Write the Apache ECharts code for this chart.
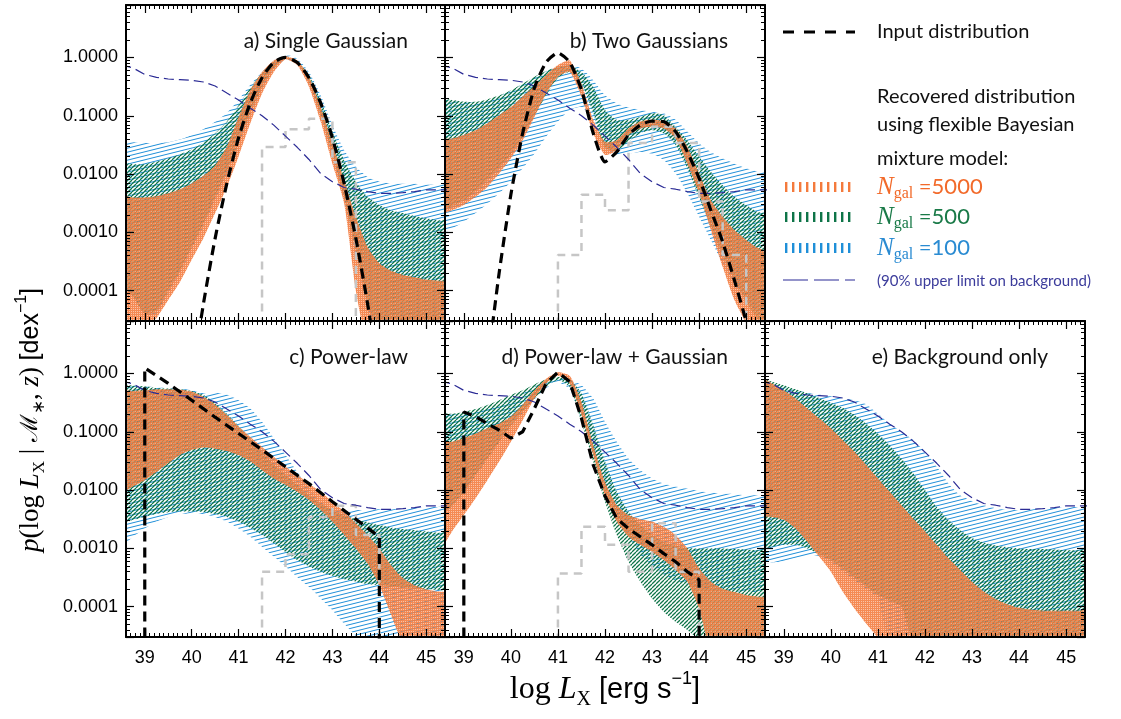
<!DOCTYPE html>
<html><head><meta charset="utf-8">
<script src="https://cdn.jsdelivr.net/npm/echarts@6/dist/echarts.min.js"></script>
<style>html,body{margin:0;padding:0;background:#fff;}#c{width:1121px;height:719px;}</style>
</head><body><div id="c"></div>
<script>
// ---------------- DATA ----------------
const X = [38.5,38.75,39,39.25,39.5,39.75,40,40.25,40.5,40.75,41,41.25,41.5,41.75,42,42.25,42.5,42.75,43,43.25,43.5,43.75,44,44.25,44.5,44.75,45,45.25,45.5];
const X_TICKS = [39,40,41,42,43,44,45];
// 90% upper limit on background (same in every panel)
const BG = [0.741,0.661,0.513,0.457,0.427,0.417,0.407,0.380,0.324,0.245,0.186,0.135,0.100,0.0692,0.0447,0.0288,0.0178,0.0102,0.00741,0.00589,0.00550,0.00501,0.00468,0.00468,0.00479,0.00501,0.00537,0.00537,0.00537];

// a) Single Gaussian
const A_IN = [1e-7,1e-7,1e-7,1e-7,1e-7,1e-7,3.0e-6,5.9e-5,7.9e-4,6.9e-3,0.042,0.166,0.45,0.82,1.0,0.82,0.45,0.166,0.042,6.9e-3,7.9e-4,5.9e-5,3.0e-6,1e-7,1e-7,1e-7,1e-7,1e-7,1e-7];
const A_HIST_EDGES = [41.5,42,42.5,43,43.5];
const A_HIST = [0.029,0.059,0.089,0.016];
const A_B_HI = [0.035,0.035,0.034,0.034,0.035,0.039,0.047,0.059,0.079,0.112,0.186,0.339,0.562,0.871,1.10,0.955,0.562,0.224,0.0692,0.0257,0.0135,0.0089,0.0074,0.0069,0.0068,0.0068,0.0066,0.0066,0.0066];
const A_B_LO = [1.35e-4,7.9e-5,4.0e-5,4.0e-5,8.9e-5,2.0e-4,5.0e-4,1.26e-3,3.55e-3,0.010,0.0316,0.100,0.282,0.631,0.933,0.759,0.355,0.100,0.020,3.55e-3,4.0e-4,5.0e-5,1e-5,1e-5,1e-5,1e-5,1e-5,1e-5,1e-5];
const A_G_HI = [0.0151,0.0148,0.0148,0.0162,0.0186,0.0219,0.0263,0.0347,0.0501,0.0794,0.151,0.309,0.537,0.851,1.0,0.871,0.501,0.186,0.0537,0.0174,0.00741,0.00407,0.00295,0.0024,0.00214,0.00191,0.00174,0.00162,0.00158];
const A_G_LO = [1.35e-4,7.9e-5,4.0e-5,4.5e-5,1.0e-4,2.2e-4,5.6e-4,1.41e-3,3.98e-3,0.0112,0.0355,0.112,0.316,0.661,0.955,0.794,0.380,0.105,0.0224,3.98e-3,5.0e-4,6.3e-5,1.6e-5,1e-5,1e-5,1e-5,1e-5,1e-5,1e-5];
const A_O_HI = [0.00407,0.00398,0.00398,0.00417,0.00468,0.0055,0.00692,0.00933,0.0141,0.0295,0.0955,0.275,0.562,0.891,1.047,0.891,0.468,0.141,0.0339,0.00794,0.00186,5.6e-4,2.95e-4,2.19e-4,1.86e-4,1.70e-4,1.55e-4,1.48e-4,1.41e-4];
const A_O_LO = [1e-5,1.26e-5,2.0e-5,3.39e-5,6.92e-5,1.41e-4,3.39e-4,7.94e-4,2.14e-3,6.03e-3,0.020,0.0741,0.24,0.562,0.933,0.741,0.316,0.0794,0.0151,3.16e-3,1.0e-4,1e-5,3e-6,3e-6,3e-6,3e-6,3e-6,3e-6,3e-6];

// b) Two Gaussians
const B_IN = [1e-7,1e-7,1e-7,1e-7,5.0e-6,2.0e-4,4.47e-3,0.0501,0.302,0.832,1.20,0.832,0.282,0.0501,0.0162,0.0240,0.0468,0.0692,0.0813,0.0794,0.0537,0.0240,8.5e-3,2.4e-3,6.9e-4,1.51e-4,2.95e-5,4.0e-6,4.0e-7];
const B_HIST_EDGES = [41,41.5,42,42.5,43,43.5,44,44.5,45];
const B_HIST = [4.1e-4,4.4e-3,2.4e-3,0.034,0.065,0.034,3.4e-3,4.1e-4];
const B_B_HI = [0.185,0.18,0.17,0.17,0.185,0.215,0.265,0.34,0.45,0.57,0.692,0.741,0.646,0.407,0.224,0.162,0.138,0.126,0.117,0.110,0.0851,0.0537,0.0339,0.0240,0.0186,0.0151,0.0126,0.0110,0.0102];
const B_B_LO = [9.55e-4,1.17e-3,1.51e-3,2.14e-3,3.09e-3,4.68e-3,7.41e-3,0.0126,0.0224,0.0437,0.0794,0.126,0.141,0.0851,0.0295,0.0214,0.0224,0.0240,0.0224,0.0174,0.0102,4.68e-3,1.86e-3,7.41e-4,2.95e-4,1.35e-4,6.92e-5,4.07e-5,2.95e-5];
const B_G_HI = [0.191,0.186,0.174,0.174,0.191,0.224,0.275,0.355,0.468,0.589,0.692,0.724,0.562,0.316,0.126,0.0851,0.0851,0.0955,0.110,0.102,0.0646,0.0380,0.0200,0.0110,6.46e-3,4.07e-3,2.95e-3,2.24e-3,2.0e-3];
const B_G_LO = [2.51e-3,2.82e-3,3.55e-3,5.01e-3,7.94e-3,0.0126,0.0224,0.0447,0.100,0.224,0.447,0.562,0.355,0.112,0.0282,0.0251,0.0355,0.0501,0.0562,0.0501,0.0316,0.0126,3.98e-3,1.26e-3,3.98e-4,1.58e-4,6.31e-5,3.16e-5,1.58e-5];
const B_O_HI = [0.038,0.0407,0.0468,0.0562,0.0741,0.102,0.141,0.214,0.324,0.501,0.741,0.891,0.355,0.0851,0.0355,0.038,0.0603,0.0794,0.0851,0.0794,0.0603,0.0295,0.0102,3.55e-3,1.86e-3,1.10e-3,7.41e-4,5.37e-4,4.37e-4];
const B_O_LO = [2.14e-3,2.40e-3,2.95e-3,4.07e-3,6.03e-3,0.0102,0.0186,0.038,0.0955,0.240,0.468,0.562,0.214,0.0501,0.0214,0.0257,0.0468,0.0603,0.0646,0.0603,0.0407,0.0151,4.68e-3,1.10e-3,2.57e-4,6.92e-5,2.75e-5,1e-5,5e-6];

// c) Power-law
const C_IN_X = [39,39,39.5,40,40.5,41,41.5,42,42.5,43,43.5,44,44];
const C_IN = [1e-7,1.25,0.676,0.347,0.178,0.0933,0.049,0.0251,0.0129,6.31e-3,3.16e-3,1.58e-3,1e-7];
const C_HIST_EDGES = [41.5,42,42.5,43,43.5,44];
const C_HIST = [3.98e-4,7.94e-4,3.47e-3,5.37e-3,1.70e-3];
const C_B_HI = [0.617,0.617,0.603,0.575,0.562,0.550,0.513,0.457,0.468,0.437,0.347,0.251,0.148,0.0776,0.0398,0.0204,0.0107,6.31e-3,4.90e-3,4.57e-3,4.57e-3,4.57e-3,4.68e-3,4.68e-3,4.90e-3,5.01e-3,5.13e-3,5.13e-3,5.13e-3];
const C_B_LO = [1.15e-3,1.58e-3,2.19e-3,2.88e-3,3.47e-3,3.89e-3,3.98e-3,3.89e-3,3.47e-3,2.88e-3,2.19e-3,1.58e-3,1.07e-3,7.24e-4,4.90e-4,3.24e-4,2.19e-4,1.38e-4,8.71e-5,5.13e-5,3.09e-5,1.58e-5,1e-5,1e-5,1e-5,1e-5,1e-5,1e-5,1e-5];
const C_G_HI = [0.617,0.617,0.603,0.562,0.550,0.537,0.501,0.427,0.316,0.204,0.126,0.0776,0.0457,0.0275,0.0182,0.0123,8.13e-3,5.89e-3,4.57e-3,3.72e-3,3.16e-3,2.82e-3,2.51e-3,2.29e-3,2.14e-3,2.04e-3,1.95e-3,1.86e-3,1.82e-3];
const C_G_LO = [2.69e-3,3.09e-3,3.47e-3,3.89e-3,4.17e-3,4.27e-3,4.27e-3,4.17e-3,3.89e-3,3.47e-3,2.88e-3,2.24e-3,1.70e-3,1.23e-3,8.71e-4,6.31e-4,4.90e-4,3.98e-4,3.39e-4,2.95e-4,2.69e-4,2.45e-4,2.34e-4,2.24e-4,2.14e-4,2.04e-4,2.0e-4,1.95e-4,1.91e-4];
const C_O_HI = [0.490,0.501,0.513,0.537,0.537,0.525,0.490,0.398,0.295,0.195,0.123,0.0813,0.0550,0.0372,0.0251,0.0182,0.0129,9.33e-3,6.31e-3,4.27e-3,2.69e-3,1.70e-3,1.0e-3,5.13e-4,3.09e-4,2.34e-4,2.0e-4,1.82e-4,1.70e-4];
const C_O_LO = [9.33e-3,0.0115,0.0148,0.0204,0.0288,0.0398,0.049,0.0537,0.0513,0.0468,0.0398,0.0309,0.0219,0.0158,0.0123,9.33e-3,6.76e-3,4.57e-3,2.88e-3,1.70e-3,1.0e-3,5.50e-4,2.34e-4,7.24e-5,2.19e-5,1e-5,1e-5,1e-5,1e-5];

// d) Power-law + Gaussian
const D_IN_X = [39,39,39.25,39.5,39.75,40,40.25,40.5,40.75,41,41.25,41.5,41.75,42,42.25,42.5,42.75,43,43.25,43.5,43.75,44,44];
const D_IN = [1e-7,0.219,0.182,0.138,0.107,0.0776,0.1,0.251,0.676,1.05,0.724,0.170,0.0269,7.94e-3,3.24e-3,2.19e-3,1.58e-3,1.15e-3,8.13e-4,5.89e-4,3.98e-4,2.88e-4,1e-7];
const D_HIST_EDGES = [41,41.5,42,42.5,43,43.5,44];
const D_HIST = [3.72e-4,2.34e-3,1.15e-3,3.98e-4,2.69e-3,3.98e-4];
const D_B_HI = [0.195,0.200,0.204,0.219,0.251,0.295,0.363,0.457,0.589,0.741,0.813,0.776,0.631,0.372,0.148,0.0676,0.0347,0.0219,0.0158,0.0129,0.0115,0.0105,9.55e-3,9.12e-3,8.71e-3,8.51e-3,8.13e-3,8.13e-3,8.13e-3];
const D_B_LO = [3.55e-3,5.25e-3,8.91e-3,0.0174,0.0331,0.0646,0.123,0.209,0.355,0.562,0.708,0.537,0.158,0.0501,0.0126,3.98e-3,1.58e-3,7.94e-4,5.01e-4,3.55e-4,2.82e-4,2.40e-4,2.14e-4,2.0e-4,1.91e-4,1.82e-4,1.78e-4,1.74e-4,1.70e-4];
const D_G_HI = [0.200,0.204,0.219,0.245,0.288,0.347,0.427,0.513,0.646,0.794,0.871,0.794,0.457,0.129,0.0309,9.33e-3,4.27e-3,2.51e-3,1.70e-3,1.29e-3,1.12e-3,1.02e-3,1.0e-3,1.0e-3,1.0e-3,9.77e-4,9.55e-4,9.33e-4,9.33e-4];
const D_G_LO = [3.72e-3,5.50e-3,9.33e-3,0.0182,0.0347,0.0676,0.129,0.219,0.372,0.589,0.776,0.589,0.148,0.0309,6.31e-3,1.70e-3,5.89e-4,2.69e-4,1.38e-4,8.13e-5,5.50e-5,3.98e-5,2.69e-5,2.0e-5,1.58e-5,1.58e-5,1.58e-5,1.58e-5,1.58e-5];
const D_O_HI = [0.0631,0.0676,0.0776,0.0933,0.115,0.138,0.182,0.288,0.513,0.813,1.05,0.912,0.324,0.0589,0.0138,5.50e-3,3.72e-3,3.16e-3,2.88e-3,2.34e-3,1.70e-3,1.0e-3,4.57e-4,2.69e-4,2.04e-4,1.78e-4,1.58e-4,1.48e-4,1.41e-4];
const D_O_LO = [1.0e-3,1.95e-3,3.72e-3,7.24e-3,0.0148,0.0309,0.0676,0.158,0.372,0.676,0.912,0.676,0.195,0.0398,8.13e-3,2.88e-3,1.58e-3,1.15e-3,8.71e-4,6.31e-4,4.27e-4,2.69e-4,9.33e-5,1.58e-5,1e-5,1e-5,1e-5,1e-5,1e-5];

// e) Background only
const E_B_HI = [0.776,0.676,0.589,0.513,0.468,0.437,0.407,0.380,0.347,0.295,0.204,0.138,0.100,0.0724,0.0457,0.0251,0.0129,8.13e-3,6.46e-3,5.50e-3,4.90e-3,4.57e-3,4.57e-3,4.68e-3,4.90e-3,5.01e-3,5.13e-3,5.13e-3,5.13e-3];
const E_B_LO = [5.50e-4,5.75e-4,6.03e-4,6.76e-4,7.24e-4,7.41e-4,5.89e-4,3.98e-4,2.82e-4,2.0e-4,1.41e-4,2e-5,2e-5,2e-5,2e-5,2e-5,2e-5,2e-5,2e-5,2e-5,2e-5,2e-5,2e-5,2e-5,2e-5,2e-5,2e-5,2e-5,2e-5];
const E_G_HI = [0.813,0.724,0.631,0.537,0.457,0.380,0.316,0.257,0.195,0.138,0.0933,0.0589,0.0347,0.0195,0.0100,5.13e-3,3.09e-3,2.04e-3,1.51e-3,1.26e-3,1.12e-3,1.05e-3,1.0e-3,9.77e-4,9.77e-4,9.55e-4,9.33e-4,9.33e-4,9.33e-4];
const E_G_LO = [1.0e-3,1.07e-3,1.15e-3,1.15e-3,1.0e-3,7.94e-4,6.31e-4,4.47e-4,3.16e-4,2.24e-4,1.58e-4,1.26e-4,1.0e-4,2.5e-5,2.5e-5,2.5e-5,2.5e-5,2.5e-5,2.5e-5,2.5e-5,2.5e-5,2.5e-5,2.5e-5,2.5e-5,2.5e-5,2.5e-5,2.5e-5,2.5e-5,2.5e-5];
const E_O_HI = [0.813,0.676,0.513,0.372,0.251,0.170,0.115,0.0724,0.0457,0.0269,0.0158,9.33e-3,5.50e-3,3.24e-3,1.95e-3,1.15e-3,6.76e-4,4.27e-4,2.69e-4,1.82e-4,1.35e-4,1.10e-4,9.55e-5,8.91e-5,8.51e-5,8.51e-5,8.51e-5,8.51e-5,8.51e-5];
const E_O_LO = [3.72e-3,3.47e-3,3.09e-3,2.19e-3,1.29e-3,7.24e-4,3.98e-4,1.82e-4,9.33e-5,5.13e-5,2.88e-5,1.26e-5,6.3e-6,6.3e-6,6.3e-6,6.3e-6,6.3e-6,6.3e-6,6.3e-6,6.3e-6,6.3e-6,6.3e-6,6.3e-6,6.3e-6,6.3e-6,6.3e-6,6.3e-6,6.3e-6,6.3e-6];

const TITLES = ['a) Single Gaussian','b) Two Gaussians','c) Power-law','d) Power-law + Gaussian','e) Background only'];
const LEGEND_N = ['5000','500','100'];

// ---------------- LAYOUT / STYLE ----------------
const XMIN = 38.6, XMAX = 45.4;
const YMIN = Math.pow(10,-4.52), YMAX = Math.pow(10,0.9);
const COLS = [[126,319],[445,320],[765,320]];
const ROWS = [[5,316],[321,316]];
const C_ORANGE = '#f47a3c', C_GREEN = '#0e7448', C_BLUE = '#1f8fd8', C_BG = '#2b2b95', C_GRAY = '#c6c6c6';
const FLOOR = 1e-7;

const X_MINOR = [];
for (let t = 387; t < 454; t++) if (t % 10) X_MINOR.push(t/10);
const Y_MINOR = [];
for (let d = -5; d <= 0; d++) for (let m = 2; m <= 9; m++) {
  const v = Number((m*Math.pow(10,d)).toPrecision(3));
  if (v > YMIN && v < YMAX) Y_MINOR.push(v);
}

function makePattern(w, h, draw) {
  const c = document.createElement('canvas'); c.width = w; c.height = h;
  draw(c.getContext('2d'), w, h);
  return {image: c, repeat: 'repeat'};
}
const PAT_BLUE = makePattern(16, 4, (ctx) => {
  ctx.strokeStyle = C_BLUE; ctx.lineWidth = 1;
  for (let o = -8; o <= 8; o += 4) { ctx.beginPath(); ctx.moveTo(0, o+4); ctx.lineTo(16, o); ctx.stroke(); }
});
const PAT_GREEN = makePattern(4, 4, (ctx) => {
  ctx.strokeStyle = C_GREEN; ctx.lineWidth = 1.25;
  for (let o = -4; o <= 8; o += 4) { ctx.beginPath(); ctx.moveTo(0, o+4); ctx.lineTo(4, o); ctx.stroke(); }
});
const PAT_ORANGE = makePattern(2, 2, (ctx) => {
  ctx.fillStyle = 'rgba(244,122,60,0.88)'; ctx.fillRect(0,0,2,1); ctx.fillRect(0,1,1,1);
  ctx.fillStyle = 'rgba(244,122,60,0.45)'; ctx.fillRect(1,1,1,1);
});
function legendPattern(color) {
  return makePattern(7, 12, (ctx) => { ctx.fillStyle = color; ctx.fillRect(1,0,2.4,12); });
}

const PANELS = [
  {col:0,row:0, b:[A_B_LO,A_B_HI], g:[A_G_LO,A_G_HI], o:[A_O_LO,A_O_HI], inX:X, inY:A_IN, smooth:0.25, he:A_HIST_EDGES, h:A_HIST},
  {col:1,row:0, b:[B_B_LO,B_B_HI], g:[B_G_LO,B_G_HI], o:[B_O_LO,B_O_HI], inX:X, inY:B_IN, smooth:0.2, he:B_HIST_EDGES, h:B_HIST},
  {col:0,row:1, b:[C_B_LO,C_B_HI], g:[C_G_LO,C_G_HI], o:[C_O_LO,C_O_HI], inX:C_IN_X, inY:C_IN, smooth:false, he:C_HIST_EDGES, h:C_HIST},
  {col:1,row:1, b:[D_B_LO,D_B_HI], g:[D_G_LO,D_G_HI], o:[D_O_LO,D_O_HI], inX:D_IN_X, inY:D_IN, smooth:false, he:D_HIST_EDGES, h:D_HIST},
  {col:2,row:1, b:[E_B_LO,E_B_HI], g:[E_G_LO,E_G_HI], o:[E_O_LO,E_O_HI], inX:null, inY:null, smooth:false, he:null, h:null}
];

const grids = [], xAxes = [], yAxes = [], series = [], graphics = [];
const lbl = {fontFamily:'Liberation Sans', fontSize:18, color:'#000'};
const frame = {show:true, onZero:false, lineStyle:{color:'#000', width:2}};
function fmtY(v) { const l = Math.log10(v); return Math.abs(l - Math.round(l)) < 1e-6 ? v.toFixed(4) : ''; }

function bandSeries(ai, lo, hi, fill) {
  return {
    type:'custom', xAxisIndex:ai, yAxisIndex:ai, clip:true, silent:true, z:2,
    data: X.map((x,i) => [x, lo[i], hi[i]]),
    encode:{x:0, y:[1,2]},
    renderItem: function(params, api) {
      if (params.dataIndex !== 0) return null;
      const pts = [];
      for (let i = 0; i < X.length; i++) pts.push(api.coord([X[i], hi[i]]));
      for (let i = X.length-1; i >= 0; i--) pts.push(api.coord([X[i], lo[i]]));
      return {type:'polygon', shape:{points:pts, smooth:0.2}, style:{fill:fill, stroke:null}};
    }
  };
}
function histPoints(edges, h) {
  const pts = [[edges[0], FLOOR]];
  for (let i = 0; i < h.length; i++) { pts.push([edges[i], h[i]]); pts.push([edges[i+1], h[i]]); }
  pts.push([edges[edges.length-1], FLOOR]);
  return pts;
}

PANELS.forEach((p, k) => {
  const [left, w] = COLS[p.col], [top, hgt] = ROWS[p.row];
  grids.push({left:left, top:top, width:w, height:hgt, show:false, containLabel:false});
  const ai = k*4;
  const xb = {type:'value', gridIndex:k, min:XMIN, max:XMAX, z:10, splitLine:{show:false}};
  const yb = {type:'log', logBase:10, gridIndex:k, min:YMIN, max:YMAX, z:10, splitLine:{show:false}};
  const showX = p.row === 1, showY = p.col === 0;
  xAxes.push(
    Object.assign({}, xb, {position:'bottom', axisLine:frame,
      axisTick:{show:true, inside:true, length:8, customValues:X_TICKS, lineStyle:{color:'#000', width:1.2}},
      axisLabel:Object.assign({show:showX, customValues:X_TICKS, margin:12, formatter:v => String(Math.round(v))}, lbl)}),
    Object.assign({}, xb, {position:'bottom', axisLine:{show:false},
      axisTick:{show:true, inside:true, length:4, customValues:X_MINOR, lineStyle:{color:'#000', width:1}}, axisLabel:{show:false}}),
    Object.assign({}, xb, {position:'top', axisLine:frame,
      axisTick:{show:true, inside:true, length:8, customValues:X_TICKS, lineStyle:{color:'#000', width:1.2}}, axisLabel:{show:false}}),
    Object.assign({}, xb, {position:'top', axisLine:{show:false},
      axisTick:{show:true, inside:true, length:4, customValues:X_MINOR, lineStyle:{color:'#000', width:1}}, axisLabel:{show:false}})
  );
  yAxes.push(
    Object.assign({}, yb, {position:'left', axisLine:frame,
      axisTick:{show:true, inside:true, length:8, lineStyle:{color:'#000', width:1.2}},
      axisLabel:Object.assign({show:showY, margin:8, formatter:fmtY}, lbl)}),
    Object.assign({}, yb, {position:'left', axisLine:{show:false},
      axisTick:{show:true, inside:true, length:4, customValues:Y_MINOR, lineStyle:{color:'#000', width:1}}, axisLabel:{show:false}}),
    Object.assign({}, yb, {position:'right', axisLine:frame,
      axisTick:{show:true, inside:true, length:8, lineStyle:{color:'#000', width:1.2}}, axisLabel:{show:false}}),
    Object.assign({}, yb, {position:'right', axisLine:{show:false},
      axisTick:{show:true, inside:true, length:4, customValues:Y_MINOR, lineStyle:{color:'#000', width:1}}, axisLabel:{show:false}})
  );
  series.push(bandSeries(ai, p.b[0], p.b[1], PAT_BLUE));
  series.push(bandSeries(ai, p.g[0], p.g[1], PAT_GREEN));
  series.push(bandSeries(ai, p.o[0], p.o[1], PAT_ORANGE));
  if (p.he) series.push({type:'line', xAxisIndex:ai, yAxisIndex:ai, data:histPoints(p.he, p.h), symbol:'none', silent:true, z:3,
    lineStyle:{color:C_GRAY, width:2.5, type:[8,6]}});
  series.push({type:'line', xAxisIndex:ai, yAxisIndex:ai, data:X.map((x,i) => [x, BG[i]]), symbol:'none', silent:true, z:4,
    lineStyle:{color:C_BG, width:1.2, type:[10,5]}});
  if (p.inX) series.push({type:'line', xAxisIndex:ai, yAxisIndex:ai, data:p.inX.map((x,i) => [x, p.inY[i]]), symbol:'none', silent:true, z:5,
    smooth:p.smooth, lineStyle:{color:'#000', width:3.2, type:[10,6]}});
  graphics.push({type:'text', x:left + w - 37, y:top + 36, z:20,
    style:{text:TITLES[k], fill:'#111', fontFamily:'Lato', fontSize:21, align:'right', verticalAlign:'middle', textAlign:'right', textVerticalAlign:'middle'}});
});

// legend (top-right cell)
const LX0 = 783, LX1 = 855, TX = 877;
graphics.push(
  {type:'line', shape:{x1:LX0, y1:32, x2:LX1, y2:32}, style:{stroke:'#000', lineWidth:3, lineDash:[11,10]}},
  {type:'text', x:TX, y:32, style:{text:'Input distribution', fill:'#111', fontFamily:'Lato', fontSize:20, align:'left', verticalAlign:'middle'}},
  {type:'text', x:TX, y:97, style:{text:'Recovered distribution', fill:'#111', fontFamily:'Lato', fontSize:20, align:'left', verticalAlign:'middle'}},
  {type:'text', x:TX, y:125, style:{text:'using flexible Bayesian', fill:'#111', fontFamily:'Lato', fontSize:20, align:'left', verticalAlign:'middle'}},
  {type:'text', x:TX, y:159, style:{text:'mixture model:', fill:'#111', fontFamily:'Lato', fontSize:20, align:'left', verticalAlign:'middle'}},
  {type:'line', shape:{x1:LX0, y1:280, x2:LX1, y2:280}, style:{stroke:C_BG, lineWidth:1.2, lineDash:[25,6]}},
  {type:'text', x:TX, y:281, style:{text:'(90% upper limit on background)', fill:'#3b3b9b', fontFamily:'Lato', fontSize:15, align:'left', verticalAlign:'middle'}}
);
[[C_ORANGE,'#f26a2a',187],[C_GREEN,'#1a7a48',217],[C_BLUE,'#2a8bd2',248]].forEach((c, i) => {
  graphics.push({type:'rect', shape:{x:LX0, y:c[2]-5, width:LX1-LX0, height:10}, style:{fill:legendPattern(c[0])}});
  graphics.push({type:'text', x:TX, y:c[2], style:{
    text:'{n|N}{s|gal}{t| =' + LEGEND_N[i] + '}', align:'left', verticalAlign:'middle',
    rich:{
      n:{fontFamily:'Liberation Serif', fontStyle:'italic', fontSize:25, fill:c[1], lineHeight:30, verticalAlign:'middle'},
      s:{fontFamily:'Liberation Serif', fontSize:16, fill:c[1], lineHeight:18, verticalAlign:'bottom'},
      t:{fontFamily:'Lato', fontSize:22, fill:c[1], lineHeight:30, verticalAlign:'middle'}
    }}});
});

// axis titles
graphics.push({type:'text', x:605, y:690, style:{
  text:'{r|log }{i|L}{sb|X}{s| [erg s}{sp|−1}{s|]}', align:'center', verticalAlign:'middle',
  rich:{
    r:{fontFamily:'Liberation Serif', fontSize:32, fill:'#000', lineHeight:40, verticalAlign:'middle'},
    i:{fontFamily:'Liberation Serif', fontStyle:'italic', fontSize:32, fill:'#000', lineHeight:40, verticalAlign:'middle'},
    sb:{fontFamily:'Liberation Serif', fontSize:20, fill:'#000', lineHeight:20, verticalAlign:'bottom'},
    s:{fontFamily:'Liberation Sans', fontSize:29, fill:'#000', lineHeight:40, verticalAlign:'middle'},
    sp:{fontFamily:'Liberation Sans', fontSize:18, fill:'#000', lineHeight:18, verticalAlign:'top'}
  }}});
graphics.push({type:'text', x:31, y:420, rotation:Math.PI/2, style:{
  text:'{i|p}{r|(log }{i|L}{sb|X}{r| | }{m|ℳ}{sb|∗}{r|, }{i|z}{r|) }{s|[dex}{sp|−1}{s|]}', align:'center', verticalAlign:'middle',
  rich:{
    r:{fontFamily:'Liberation Serif', fontSize:27, fill:'#000', lineHeight:34, verticalAlign:'middle'},
    i:{fontFamily:'Liberation Serif', fontStyle:'italic', fontSize:27, fill:'#000', lineHeight:34, verticalAlign:'middle'},
    m:{fontFamily:'DejaVu Serif', fontSize:24, fill:'#000', lineHeight:34, verticalAlign:'middle'},
    sb:{fontFamily:'Liberation Serif', fontSize:17, fill:'#000', lineHeight:17, verticalAlign:'bottom'},
    s:{fontFamily:'Liberation Sans', fontSize:25, fill:'#000', lineHeight:34, verticalAlign:'middle'},
    sp:{fontFamily:'Liberation Sans', fontSize:16, fill:'#000', lineHeight:16, verticalAlign:'top'}
  }}});

const chart = echarts.init(document.getElementById('c'), null, {renderer:'canvas', width:1121, height:719});
chart.setOption({
  animation:false,
  backgroundColor:'#fff',
  grid:grids, xAxis:xAxes, yAxis:yAxes, series:series,
  graphic:{elements:graphics}
});
</script>
</body></html>
